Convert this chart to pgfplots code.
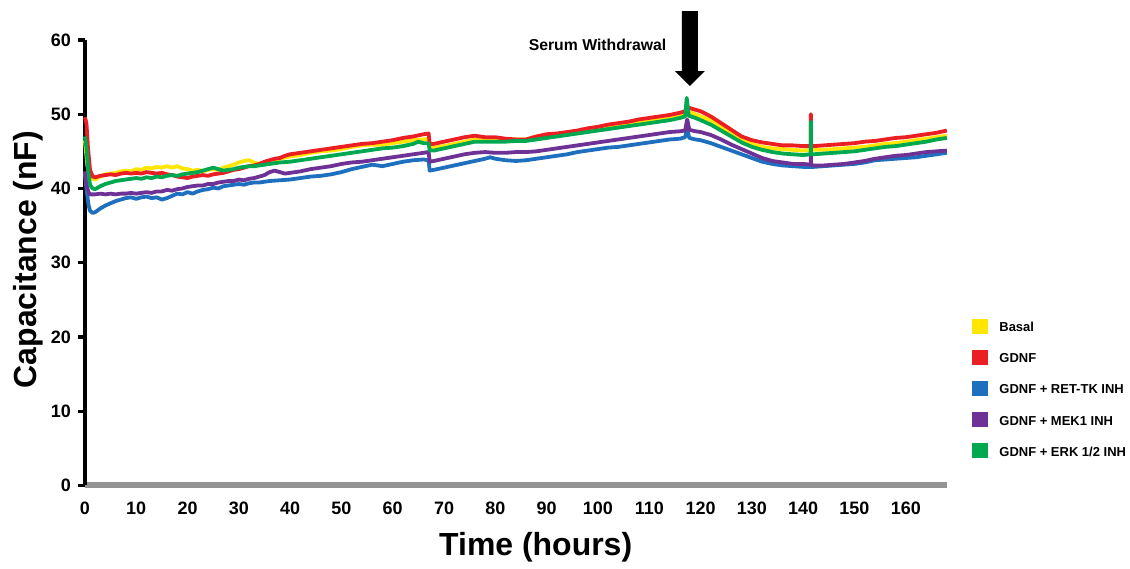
\documentclass[border=0pt]{standalone}
\usepackage{pgfplots}
\pgfplotsset{compat=1.18}
\usepackage{fontspec}
\setmainfont{Liberation Sans}
\definecolor{basalcol}{RGB}{255,230,0}
\definecolor{gdnfcol}{RGB}{235,30,35}
\definecolor{retcol}{RGB}{30,112,190}
\definecolor{mekcol}{RGB}{110,50,150}
\definecolor{erkcol}{RGB}{0,168,80}

\begin{document}
\begin{tikzpicture}
\begin{axis}[
    scale only axis,
    width=431.5pt, height=223pt,
    xmin=0, xmax=168, ymin=0, ymax=60,
    axis lines=left,
    axis line style={-},
    x axis line style={draw=black!42, line width=3pt},
    y axis line style={draw=black, line width=2pt},
    xtick={0,10,...,160},
    ytick={0,10,...,60},
    xtick style={draw=none},
    ytick style={black, line width=1.6pt},
    tick align=outside,
    major tick length=3.5pt,
    tick label style={font=\fontsize{9}{10}\selectfont\bfseries},
    /pgf/number format/assume math mode=true,
    xticklabel style={yshift=-1pt},
    xlabel={Time (hours)},
    ylabel={Capacitance (nF)},
    label style={font=\fontsize{16}{18}\selectfont\bfseries},
    xlabel style={at={(axis description cs:0.523,0)}, anchor=north, yshift=-20pt},
    ylabel style={at={(axis description cs:-0.066,0.507)}, anchor=center, rotate=0},
    clip=false,
    every axis plot/.append style={line width=1.9pt, line join=round},
    legend image code/.code={\path (0pt,0pt) (11pt,0pt);
        \fill[#1,draw=none] (0pt,-2.5pt) rectangle (8pt,5pt);},
    legend style={draw=none, fill=none, font=\fontsize{6.5}{7.5}\selectfont\bfseries,
        at={(axis description cs:1.026,0.3756)}, anchor=north west,
        row sep=5.5pt, inner sep=0pt, cells={anchor=west}},
    legend cell align=left,
]
\addplot[basalcol] coordinates {
(0,46.5) (0.5,43) (1,41.8) (1.5,41.3) (2,41.2) (3,41.6) (4,41.9) (5,42.0) (6,42.1) (7,42.3) (8,42.4) (9,42.3) (10,42.6) (11,42.5) (12,42.8) (13,42.7) (14,42.9) (15,42.8) (16,43.0) (17,42.8) (18,43.0) (19,42.7) (20,42.6) (21,42.4) (22,42.5) (23,42.3) (24,42.5) (25,42.6) (26,42.5) (27,42.8) (28,43.0) (29,43.2) (30,43.5) (31,43.7) (32,43.8) (33,43.5) (34,43.3) (35,43.5) (36,43.7) (38,44.0) (40,44.3) (42,44.5) (44,44.8) (46,45.0) (48,45.1) (50,45.3) (52,45.6) (54,45.8) (56,45.9) (58,45.9) (60,46.1) (62,46.3) (64,46.5) (66,46.6) (67,46.7) (67.2,45.6) (68,45.5) (70,45.7) (72,46.0) (74,46.3) (76,46.6) (78,46.6) (80,46.5) (82,46.5) (84,46.6) (86,46.6) (88,47.0) (90,47.2) (92,47.3) (94,47.5) (96,47.7) (98,48.0) (100,48.2) (102,48.4) (104,48.6) (106,48.8) (108,49.0) (110,49.2) (112,49.4) (114,49.6) (116,49.8) (117,49.9) (117.5,50.3) (118,50.2) (119,50.0) (120,49.7) (122,49.2) (124,48.3) (126,47.5) (128,46.6) (130,46.0) (132,45.6) (134,45.4) (136,45.3) (138,45.2) (140,45.1) (142,45.2) (144,45.2) (146,45.3) (148,45.4) (150,45.5) (152,45.6) (154,45.8) (156,46.0) (158,46.1) (160,46.3) (162,46.5) (164,46.7) (166,46.9) (168,47.1)
};
\addplot[gdnfcol] coordinates {
(0,49.6) (0.3,48.8) (0.6,45.5) (1,42.5) (1.5,41.6) (2,41.5) (3,41.7) (4,41.8) (5,41.9) (6,41.8) (7,42.0) (8,42.1) (9,42.0) (10,42.1) (11,42.0) (12,42.2) (13,42.1) (14,42.0) (15,42.1) (16,41.9) (17,41.8) (18,41.6) (19,41.5) (20,41.4) (21,41.6) (22,41.7) (23,41.8) (24,41.7) (25,41.9) (26,42.0) (27,42.1) (28,42.3) (29,42.5) (30,42.6) (31,42.8) (32,43.0) (33,43.1) (34,43.3) (35,43.6) (36,43.8) (37,44.0) (38,44.1) (39,44.4) (40,44.6) (42,44.8) (44,45.0) (46,45.2) (48,45.4) (50,45.6) (52,45.8) (54,46.0) (56,46.1) (58,46.3) (60,46.5) (62,46.8) (64,47.0) (66,47.3) (67,47.4) (67.2,46.0) (68,46.0) (70,46.3) (72,46.6) (74,46.9) (76,47.1) (78,46.9) (80,46.9) (82,46.7) (84,46.6) (86,46.6) (88,47.0) (90,47.3) (92,47.4) (94,47.6) (96,47.8) (98,48.1) (100,48.3) (102,48.6) (104,48.8) (106,49.0) (108,49.3) (110,49.5) (112,49.7) (114,49.9) (116,50.2) (117,50.4) (117.4,51.0) (118,50.8) (119,50.6) (120,50.4) (122,49.7) (124,48.8) (126,47.9) (128,47.0) (130,46.5) (132,46.2) (134,46.0) (136,45.8) (138,45.8) (140,45.7) (141.5,45.7) (141.5,50.0) (141.5,45.7) (142,45.7) (144,45.8) (146,45.9) (148,46.0) (150,46.1) (152,46.3) (154,46.4) (156,46.6) (158,46.8) (160,46.9) (162,47.1) (164,47.3) (166,47.5) (168,47.8)
};
\addplot[retcol] coordinates {
(0,42) (0.3,40) (0.7,37.8) (1,37.0) (1.5,36.7) (2,36.8) (3,37.3) (4,37.7) (5,38.0) (6,38.3) (7,38.5) (8,38.7) (9,38.8) (10,38.6) (11,38.8) (12,38.9) (13,38.7) (14,38.8) (15,38.5) (16,38.7) (17,39.0) (18,39.3) (19,39.2) (20,39.5) (21,39.3) (22,39.6) (23,39.8) (24,39.9) (25,40.1) (26,40.0) (27,40.3) (28,40.4) (29,40.5) (30,40.6) (31,40.5) (32,40.7) (33,40.8) (34,40.8) (35,40.9) (36,41.0) (38,41.1) (40,41.2) (42,41.4) (44,41.6) (46,41.7) (48,41.9) (50,42.2) (52,42.6) (54,42.9) (56,43.2) (58,43.0) (60,43.3) (62,43.6) (64,43.8) (66,43.9) (67,43.8) (67.2,42.4) (68,42.5) (70,42.8) (72,43.1) (74,43.4) (76,43.7) (78,44.0) (79,44.2) (80,44.0) (82,43.8) (84,43.7) (86,43.8) (88,44.0) (90,44.2) (92,44.4) (94,44.6) (96,44.9) (98,45.1) (100,45.3) (102,45.5) (104,45.6) (106,45.8) (108,46.0) (110,46.2) (112,46.4) (114,46.6) (116,46.7) (117,46.9) (117.4,48.0) (117.8,46.8) (119,46.6) (120,46.5) (122,46.1) (124,45.6) (126,45.1) (128,44.6) (130,44.1) (132,43.6) (134,43.3) (136,43.1) (138,43.0) (140,42.9) (142,42.9) (144,43.0) (146,43.1) (148,43.2) (150,43.3) (152,43.5) (154,43.8) (156,43.9) (158,44.0) (160,44.1) (162,44.2) (164,44.4) (166,44.6) (168,44.8)
};
\addplot[mekcol] coordinates {
(0,42.3) (0.3,40.5) (0.7,39.5) (1,39.2) (2,39.2) (3,39.3) (4,39.2) (5,39.3) (6,39.2) (7,39.3) (8,39.3) (9,39.4) (10,39.3) (11,39.4) (12,39.5) (13,39.4) (14,39.6) (15,39.6) (16,39.8) (17,39.7) (18,39.9) (19,40.0) (20,40.2) (21,40.3) (22,40.4) (23,40.4) (24,40.6) (25,40.6) (26,40.8) (27,40.9) (28,41.0) (29,41.0) (30,41.2) (31,41.1) (32,41.3) (33,41.4) (34,41.6) (35,41.8) (36,42.2) (37,42.4) (38,42.2) (39,42.0) (40,42.1) (42,42.3) (44,42.6) (46,42.8) (48,43.0) (50,43.3) (52,43.5) (54,43.6) (56,43.8) (58,44.0) (60,44.2) (62,44.4) (64,44.6) (66,44.8) (67,44.9) (67.2,43.6) (68,43.7) (70,44.0) (72,44.3) (74,44.6) (76,44.8) (78,44.9) (80,44.8) (82,44.8) (84,44.9) (86,44.9) (88,45.0) (90,45.2) (92,45.4) (94,45.6) (96,45.8) (98,46.0) (100,46.2) (102,46.4) (104,46.6) (106,46.8) (108,47.0) (110,47.2) (112,47.4) (114,47.6) (116,47.7) (117,47.8) (117.4,49.3) (117.8,47.9) (119,47.7) (120,47.6) (122,47.2) (124,46.6) (126,45.9) (128,45.3) (130,44.7) (132,44.1) (134,43.7) (136,43.5) (138,43.3) (140,43.3) (141.5,43.2) (141.5,45.0) (141.5,43.2) (142,43.1) (144,43.1) (146,43.2) (148,43.3) (150,43.5) (152,43.7) (154,44.0) (156,44.2) (158,44.4) (160,44.5) (162,44.7) (164,44.9) (166,45.0) (168,45.1)
};
\addplot[erkcol] coordinates {
(0,47.0) (0.3,45.5) (0.7,42.0) (1,40.5) (1.5,40.0) (2,39.9) (3,40.3) (4,40.6) (5,40.8) (6,41.0) (7,41.1) (8,41.2) (9,41.3) (10,41.4) (11,41.3) (12,41.5) (13,41.4) (14,41.6) (15,41.5) (16,41.7) (17,41.8) (18,41.7) (19,41.9) (20,42.0) (21,42.1) (22,42.2) (23,42.4) (24,42.6) (25,42.8) (26,42.6) (27,42.4) (28,42.5) (29,42.6) (30,42.8) (31,42.9) (32,43.0) (33,43.0) (34,43.1) (35,43.2) (36,43.3) (38,43.5) (40,43.6) (42,43.8) (44,44.0) (46,44.2) (48,44.4) (50,44.6) (52,44.8) (54,45.0) (56,45.2) (58,45.4) (60,45.5) (62,45.7) (64,46.0) (65,46.3) (66,46.1) (67,46.1) (67.2,45.1) (68,45.1) (70,45.4) (72,45.7) (74,46.0) (76,46.3) (78,46.3) (80,46.3) (82,46.3) (84,46.4) (86,46.4) (88,46.6) (90,46.8) (92,47.0) (94,47.2) (96,47.4) (98,47.6) (100,47.8) (102,48.0) (104,48.2) (106,48.4) (108,48.6) (110,48.8) (112,49.0) (114,49.2) (116,49.5) (117,49.7) (117.3,52.2) (117.7,49.8) (119,49.5) (120,49.2) (122,48.6) (124,47.8) (126,47.0) (128,46.2) (130,45.6) (132,45.2) (134,44.9) (136,44.7) (138,44.6) (140,44.5) (141.5,44.6) (141.5,49.0) (141.5,44.6) (142,44.6) (144,44.7) (146,44.8) (148,44.9) (150,45.0) (152,45.2) (154,45.4) (156,45.6) (158,45.7) (160,45.9) (162,46.1) (164,46.3) (166,46.6) (168,46.8)
};
\legend{Basal,GDNF,GDNF + RET-TK INH,GDNF + MEK1 INH,GDNF + ERK 1/2 INH}
% serum withdrawal marker
\fill[black] (axis cs:117.9,53.8) -- ++(-7.5pt,7.5pt) -- ++(3.5pt,0) -- ++(0,30pt)
    -- ++(8pt,0) -- ++(0,-30pt) -- ++(3.5pt,0) -- cycle;
\node[anchor=east, inner sep=0pt, font=\fontsize{7.9}{9}\selectfont\bfseries]
    at (axis cs:113.4,59.4) {Serum Withdrawal};
\coordinate (O) at (axis cs:0,0);
\end{axis}
\path (O) ++(-42.5pt,-39pt) rectangle ++(565pt,282pt);
\end{tikzpicture}
\end{document}
